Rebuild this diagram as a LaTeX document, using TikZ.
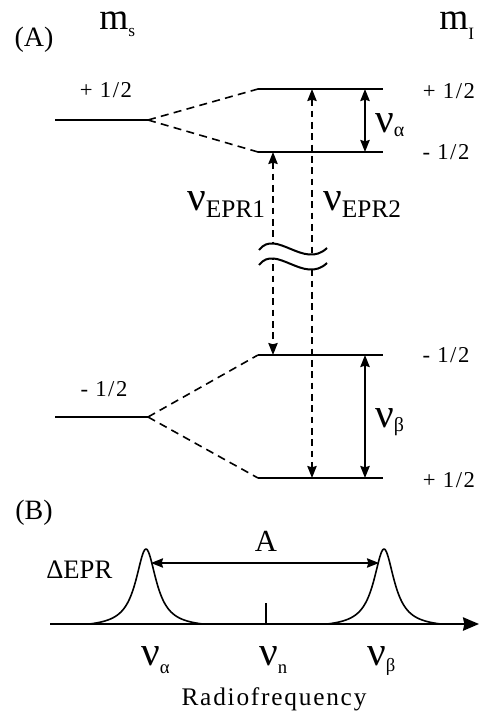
\documentclass[tikz,border=0pt]{standalone}
\usepackage{fontspec}
\setmainfont{Liberation Serif}
\newfontfamily\wide[LetterSpace=7]{Liberation Serif}
\usetikzlibrary{arrows.meta,positioning}

\newcommand{\fs}[1]{\fontsize{#1}{#1}\selectfont}
% nu with a lowered index: #1 index, #2 its size, #3 how far down
\newcommand{\nuidx}[3]{{\fs{31}ν}\raisebox{-#3}{\fs{#2}#1}}

\begin{document}
\begin{tikzpicture}[x=0.75pt,y=-0.75pt,
  tipA/.tip={Stealth[length=9pt,width=7pt,inset=1pt]},
  lvl/.style={line width=1.5pt},
  split/.style={line width=1.2pt,dash pattern=on 6pt off 4pt},
  epr/.style={line width=1.2pt,dash pattern=on 5pt off 3.5pt,tipA-tipA},
  nmr/.style={line width=1.5pt,tipA-tipA},
  lab/.style={font=\wide\fs{17},inner sep=0pt},
  nu/.style={anchor=base west,inner sep=0pt}
]
\useasboundingbox (0,0) rectangle (479,720);

% (A) energy levels
\node[font=\fs{21}] (pA) at (34,40) {(A)};
\node[nu] (ms) at (99,30) {{\fs{28}m}\raisebox{-5pt}{\fs{13}s}};
\node[nu] (mi) at (439,30) {{\fs{28}m}\raisebox{-7pt}{\fs{13}I}};

\coordinate (a0) at (55,120);  \coordinate (a1) at (148,120);
\coordinate (b0) at (55,417);  \coordinate (b1) at (148,417);
\coordinate (u1) at (258,89);  \coordinate (u2) at (383,89);
\coordinate (v1) at (258,152); \coordinate (v2) at (383,152);
\coordinate (w1) at (258,355); \coordinate (w2) at (383,355);
\coordinate (z1) at (258,478); \coordinate (z2) at (383,478);

\draw[lvl] (a0) -- (a1);
\draw[lvl] (b0) -- (b1);
\draw[lvl] (u1) -- (u2);
\draw[lvl] (v1) -- (v2);
\draw[lvl] (w1) -- (w2);
\draw[lvl] (z1) -- (z2);
\draw[split] (a1) -- (u1);
\draw[split] (a1) -- (v1);
\draw[split] (b1) -- (w1);
\draw[split] (b1) -- (z1);

\node[lab] (sUp) at (106,90) {+ 1/2};
\node[lab] (sDn) at (104,389) {- 1/2};
\node[lab] (iU1) at (449,91) {+ 1/2};
\node[lab] (iD1) at (446,152) {- 1/2};
\node[lab] (iD2) at (446,355) {- 1/2};
\node[lab] (iU2) at (449,480) {+ 1/2};

% transitions
\coordinate (e1t) at (273,152); \coordinate (e1b) at (273,355);
\coordinate (e2t) at (312,89);  \coordinate (e2b) at (312,478);
\draw[epr] (e1t) -- (e1b);
\draw[epr] (e2t) -- (e2b);
\draw[nmr] (365,89) coordinate (na1) -- (365,152) coordinate (na2);
\draw[nmr] (365,355) coordinate (nb1) -- (365,478) coordinate (nb2);

% axis break
\fill[white] (259,250) .. controls (276,228) and (304,270) .. (327,248)
  -- (327,263) .. controls (304,285) and (276,243) .. (259,265) -- cycle;
\draw[lvl] (259,250) .. controls (276,228) and (304,270) .. (327,248);
\draw[lvl] (259,265) .. controls (276,243) and (304,285) .. (327,263);

\node[nu] (nE1) at (187,211) {\nuidx{EPR1}{19}{5pt}};
\node[nu] (nE2) at (323,211) {\nuidx{EPR2}{19}{5pt}};
\node[nu] (nA) at (375,133) {\nuidx{α}{15}{3pt}};
\node[nu] (nB) at (375,427) {\nuidx{β}{15}{3pt}};

% (B) ENDOR spectrum
\node[font=\fs{21}] (pB) at (34,513) {(B)};
\node[nu,font=\fs{20}] (dE) at (46,578) {ΔEPR};
\coordinate (x0) at (50,624); \coordinate (x1) at (479,624);
\draw[line width=1.5pt,-{Stealth[length=12pt,width=10pt,inset=1pt]}] (x0) -- (x1);
\draw[line width=1.2pt] (266,603) coordinate (tk) -- (266,624);
\draw[line width=1.2pt,domain=-57:57,samples=120]
  plot ({146+\x},{624-75*(156/(\x*\x+156)-0.046)/0.954});
\draw[line width=1.2pt,domain=-57:57,samples=120]
  plot ({384+\x},{624-75*(156/(\x*\x+156)-0.046)/0.954});
\coordinate (hA) at (151,563); \coordinate (hB) at (379,563);
\draw[line width=1.2pt,tipA-tipA] (hA) -- (hB);
\node[font=\fs{23}] (lblA) at (266,541) {A};

\node[nu] (sa) at (141,665) {\nuidx{α}{14}{6pt}};
\node[nu] (sn) at (259,665) {\nuidx{n}{14}{6pt}};
\node[nu] (sb) at (367,665) {\nuidx{β}{14}{5pt}};
\node[anchor=base,inner sep=0pt,font=\wide\fs{19}] (rf) at (274,705) {Radiofrequency};
\end{tikzpicture}
\end{document}
